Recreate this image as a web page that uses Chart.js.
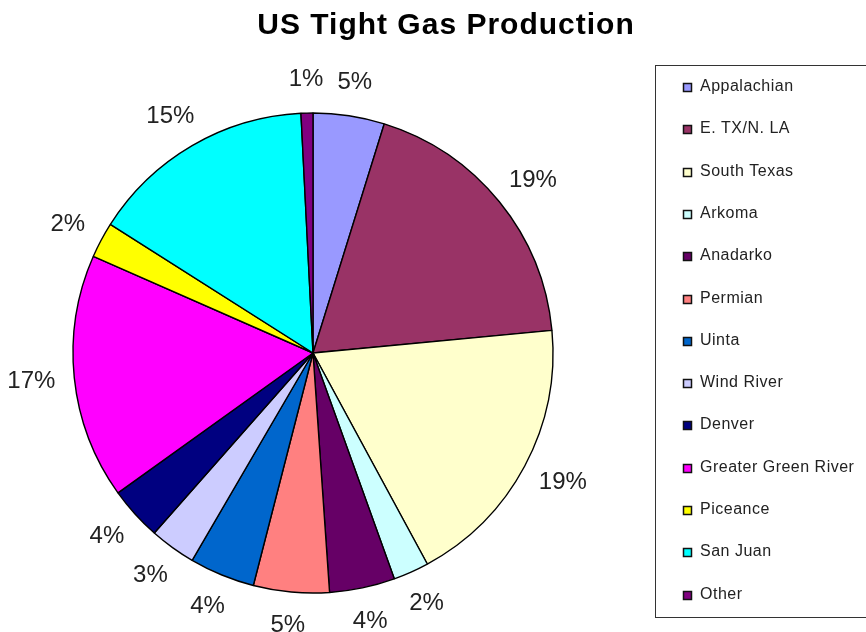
<!DOCTYPE html>
<html>
<head>
<meta charset="utf-8">
<title>US Tight Gas Production</title>
<script src="https://cdn.jsdelivr.net/npm/chart.js@4.4.1/dist/chart.umd.min.js"></script>
<style>
    html, body { margin: 0; padding: 0; background: #fff; }
    canvas { display: block; }
</style>
</head>
<body>
<canvas id="myChart" width="866" height="632"></canvas>
<script>
const chartTitle = 'US Tight Gas Production';
const basins = ['Appalachian', 'E. TX/N. LA', 'South Texas', 'Arkoma', 'Anadarko', 'Permian', 'Uinta',
    'Wind River', 'Denver', 'Greater Green River', 'Piceance', 'San Juan', 'Other'];
const production = [4.8, 18.7, 18.6, 2.4, 4.4, 5.1, 4.4, 3.1, 3.6, 16.5, 2.4, 15.2, 0.8];
const sliceColors = ['#9999FF', '#993366', '#FFFFCC', '#CCFFFF', '#660066', '#FF8080', '#0066CC',
    '#CCCCFF', '#000080', '#FF00FF', '#FFFF00', '#00FFFF', '#800080'];

const ctx = document.getElementById('myChart');

// percentage labels just outside each slice
const outsideLabels = {
    id: 'outsideLabels',
    afterDatasetsDraw(chart) {
        const c = chart.ctx;
        const meta = chart.getDatasetMeta(0);
        const total = production.reduce((a, b) => a + b, 0);
        c.save();
        c.font = '24px "Liberation Sans", Arial, sans-serif';
        c.fillStyle = '#222';
        c.textAlign = 'center';
        c.textBaseline = 'middle';
        meta.data.forEach((arc, i) => {
            const p = arc.getProps(['x', 'y', 'startAngle', 'endAngle', 'outerRadius'], true);
            const mid = (p.startAngle + p.endAngle) / 2;
            const text = Math.round(production[i] / total * 100) + '%';
            const w = c.measureText(text).width;
            const r = p.outerRadius + 24;
            c.fillText(text, p.x + (r + w * 0.4) * Math.cos(mid), p.y + (r + 10) * Math.sin(mid));
        });
        c.restore();
    }
};

// title over the whole page width + boxed legend on the right
const titleAndLegend = {
    id: 'titleAndLegend',
    afterDraw(chart) {
        const c = chart.ctx;
        c.save();
        c.font = 'bold 30px "Liberation Sans", Arial, sans-serif';
        c.letterSpacing = '1px';
        c.fillStyle = '#000';
        c.textAlign = 'center';
        c.textBaseline = 'middle';
        c.fillText(chartTitle, 446, 26);
        c.restore();

        c.save();
        c.strokeStyle = '#333';
        c.lineWidth = 1;
        c.strokeRect(655.5, 65.5, 220, 552);
        c.font = '16px "Liberation Sans", Arial, sans-serif';
        c.letterSpacing = '0.5px';
        c.textBaseline = 'middle';
        chart.data.labels.forEach((name, i) => {
            const y = Math.round(87 + i * 42.3);
            c.fillStyle = sliceColors[i];
            c.fillRect(683, y - 4, 9, 9);
            c.strokeStyle = '#111';
            c.lineWidth = 1.5;
            c.strokeRect(683.5, y - 3.5, 8, 8);
            c.fillStyle = '#222';
            c.fillText(name, 700, y);
        });
        c.restore();
    }
};

new Chart(ctx, {
    type: 'pie',
    data: {
        labels: basins,
        datasets: [{
            data: production,
            backgroundColor: sliceColors,
            borderColor: '#000',
            borderWidth: 1.4
        }]
    },
    options: {
        responsive: false,
        animation: false,
        radius: 240,
        layout: {
            padding: { left: 0, right: 240, top: 74, bottom: 0 }
        },
        plugins: {
            legend: { display: false },
            tooltip: { enabled: false },
            title: { display: false }
        }
    },
    plugins: [outsideLabels, titleAndLegend]
});
</script>
</body>
</html>
